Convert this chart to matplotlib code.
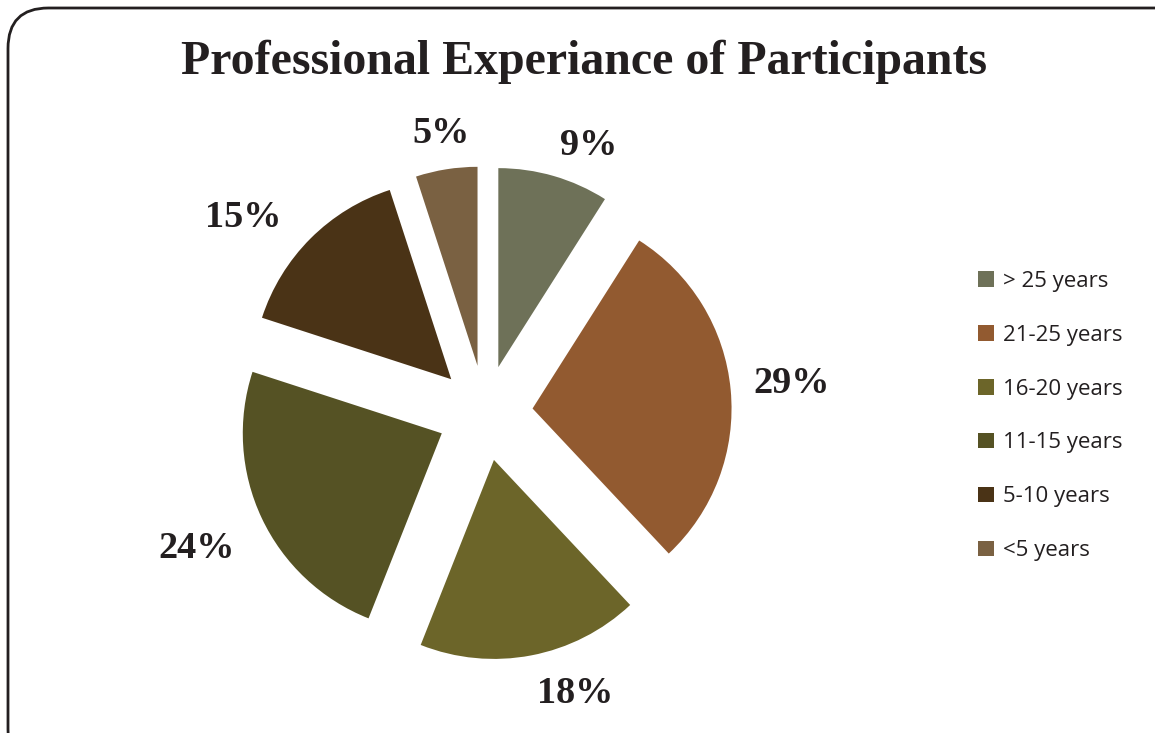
import matplotlib as mpl
import matplotlib.pyplot as plt
import numpy as np
from matplotlib.patches import FancyBboxPatch

categories = ['> 25 years', '21-25 years', '16-20 years', '11-15 years', '5-10 years', '<5 years']
shares = [9, 29, 18, 24, 15, 5]
colors = ['#6E7158', '#925A30', '#6C6529', '#555224', '#4A3316', '#7A6142']

width, height, dpi = 11.55, 7.33, 100.0
fig = plt.figure(figsize=(width, height), dpi=dpi)
fig.patch.set_facecolor('w')

# rounded frame, running off the right and bottom edges
frame = FancyBboxPatch((8 / 1155, -0.05), 1.2, 1 - 8 / 733 + 0.05, transform=fig.transFigure,
                       boxstyle='round,pad=0,rounding_size=0.035',
                       facecolor='none', edgecolor='#231F20', linewidth=2.0,
                       mutation_aspect=1155 / 733)
fig.patches.append(frame)

# pie axes: 1 unit = 199 px, centre at (485, 413) px
r_px = 199.0
half = 1.5 * r_px
ax = fig.add_axes([(485 - half) / 1155, (733 - 413 - half) / 733, 2 * half / 1155, 2 * half / 733])

wedges, texts = ax.pie(shares, colors=colors, startangle=90, counterclock=False,
                       explode=[0.24] * len(shares), radius=1.0,
                       wedgeprops=dict(linewidth=0))
ax.set_xlim(-1.5, 1.5)
ax.set_ylim(-1.5, 1.5)
ax.set_aspect('equal')
ax.axis('off')

# percentage labels outside each wedge (distance from centre, angle nudge)
cum = np.cumsum([0] + shares[:-1])
dists = [1.44, 1.55, 1.48, 1.60, 1.565, 1.42]
nudge = [-5, 0, 7, 0, 6, 0]
for s, c, d, n in zip(shares, cum, dists, nudge):
    ang = np.deg2rad(90 - (c + s / 2) * 3.6 + n)
    ax.text(d * np.cos(ang), d * np.sin(ang), '%d%%' % s,
            ha='center', va='center', fontfamily='Liberation Serif', fontweight='bold',
            fontsize=27.5, color='#231F20')

fig.text(584 / 1155, 1 - 62 / 733, 'Professional Experiance of Participants',
         ha='center', va='center', fontfamily='Liberation Serif', fontweight='bold',
         fontsize=34.5, color='#231F20')

leg = fig.legend(wedges, categories, loc='center left', bbox_to_anchor=(967 / 1155, 1 - 416 / 733),
                 frameon=False, borderpad=0, handlelength=0.7, handleheight=0.7,
                 handletextpad=0.4, labelspacing=1.48,
                 prop=dict(family='Open Sans', size=16))
for t in leg.get_texts():
    t.set_color('#231F20')

plt.savefig('out.png', dpi=dpi, facecolor=fig.get_facecolor())
